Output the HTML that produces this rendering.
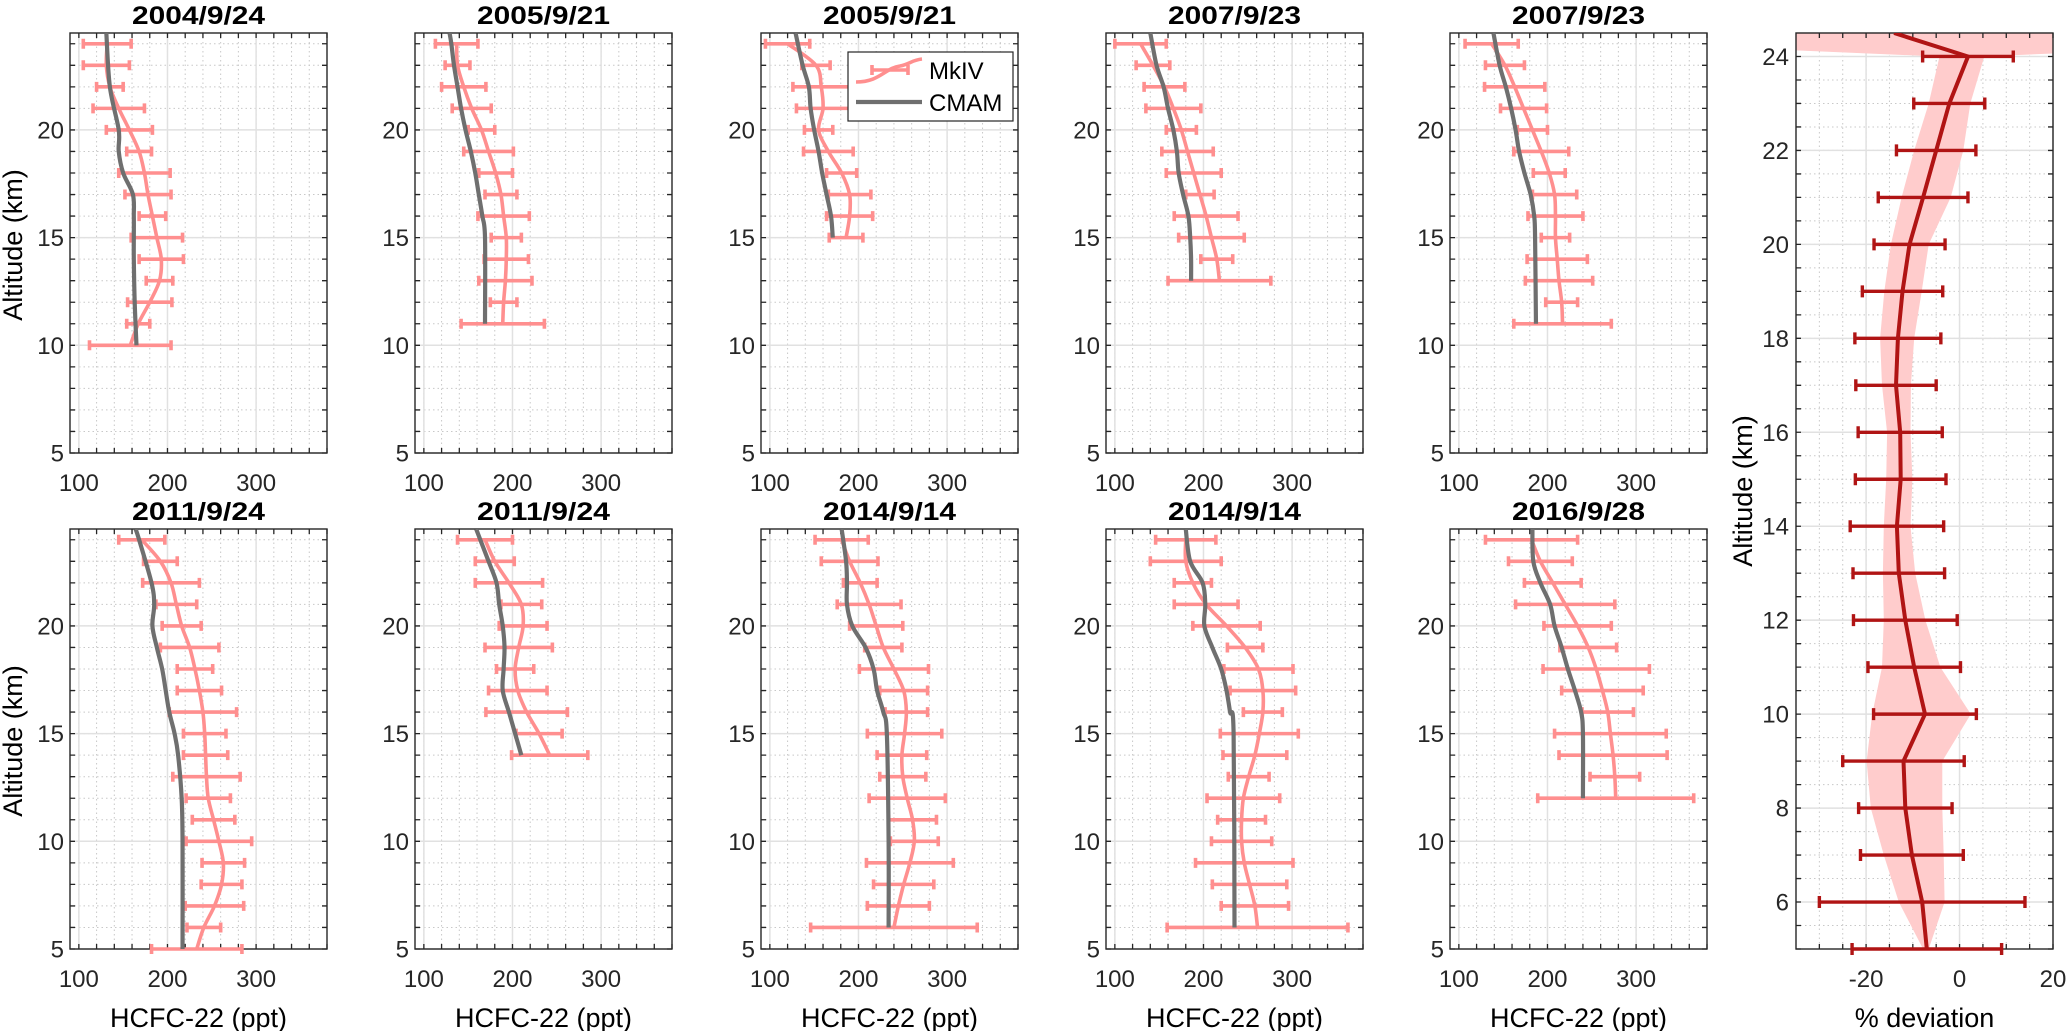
<!DOCTYPE html>
<html><head><meta charset="utf-8"><title>HCFC-22 profiles</title>
<style>
html,body{margin:0;padding:0;background:#fff;}
svg{display:block;font-family:"Liberation Sans",Arial,sans-serif;}
</style></head>
<body>
<svg id="chart" width="2067" height="1031" viewBox="0 0 2067 1031" xmlns="http://www.w3.org/2000/svg"></svg>
<script>
// ---------- data ----------
const titles = ["2004/9/24","2005/9/21","2005/9/21","2007/9/23","2007/9/23","2011/9/24","2011/9/24","2014/9/14","2014/9/14","2016/9/28"];
const xTicks = [100,200,300];
const yTicks = [5,10,15,20];
const devXTicks = [-20,0,20];
const devYTicks = [6,8,10,12,14,16,18,20,22,24];

const mk1Alt = [24,23,22,21,20,19,18,17,16,15,14,13,12,11,10];
const mk1Val = [132,131,135,145,157,168,174,178,183,188,193,191,180,167,158];
const mk1Err = [27,26,15,29,26,14,29,26,15,29,25,15,25,13,46];
const cm1Alt = [24.5,22,20,19,18,17,16,15,14,12,10];
const cm1Val = [131,135,145,145,150,161,162,162,162,163,165];

const mk2Alt = [24,23,22,21,20,19,18,17,16,15,14,13,12,11];
const mk2Val = [137,138,145,154,165,173,181,187,190,193,193,192,190,189];
const mk2Err = [24,14,25,22,15,28,19,18,29,17,25,30,15,47];
const cm2Alt = [24.5,24,23,22,21,20,19,18,17,16,15,11];
const cm2Val = [129,131,134,138,142,147,153,158,162,166,169,169];

const mk3Alt = [24,23,22,21,20,19,18,17,16,15];
const mk3Val = [120,152,158,160,155,166,181,190,190,186];
const mk3Err = [25,16,32,30,16,28,17,24,26,19];
const cm3Alt = [24.5,23,22,21,20,19,18,17,16,15];
const cm3Val = [129,137,144,146,150,155,159,164,169,171];

const mk4Alt = [24,23,22,21,20,19,18,17,16,15,14,13];
const mk4Val = [129,143,156,166,175,182,189,196,203,209,215,218];
const mk4Err = [29,19,23,31,17,29,31,16,36,37,18,58];
const cm4Alt = [24.5,23,22,21,20,19,18,17,16,15,14,13];
const cm4Val = [140,147,155,160,166,170,172,177,183,185,186,186];

const mk5Alt = [24,23,22,21,20,19,18,17,16,15,14,13,12,11];
const mk5Val = [137,152,163,173,183,193,202,208,209,209,211,213,216,217];
const mk5Err = [30,22,34,26,17,31,18,25,31,16,34,38,18,55];
const cm5Alt = [24.5,23,22,21,20,19,18,17,16,15,11];
const cm5Val = [139,146,153,159,164,168,174,181,185,186,187];

const mk6Alt = [24,23,22,21,20,19,18,17,16,15,14,13,12,11,10,9,8,7,6,5];
const mk6Val = [171,192,204,210,216,225,231,236,240,242,243,244,246,252,258,263,261,253,241,233];
const mk6Err = [26,19,32,23,22,33,20,25,38,24,25,38,25,24,37,24,23,33,19,51];
const cm6Alt = [24.5,24,22,21,20,19,18,17,16,15,14,12,10,5];
const cm6Val = [164,168,182,185,183,188,194,198,202,208,212,216,217,217];

const mk7Alt = [24,23,22,21,20,19,18,17,16,15,14];
const mk7Val = [169,180,196,210,212,207,203,206,216,230,242];
const mk7Err = [31,22,38,23,27,38,21,33,46,26,43];
const cm7Alt = [24.5,23,22,21,20,19,18,17,16,15,14];
const cm7Val = [159,173,182,185,189,191,190,189,196,203,210];

const mk8Alt = [24,23,22,21,20,19,18,17,16,15,14,13,12,11,10,9,8,7,6];
const mk8Val = [181,190,202,212,220,228,240,251,254,252,249,250,255,261,263,258,251,245,240];
const mk8Err = [30,32,19,36,30,21,39,27,24,42,28,26,43,27,27,49,34,35,94];
const cm8Alt = [24.5,23,22,21,20,19,18,17,16,15,10,6];
const cm8Val = [181,186,187,187,193,208,217,221,228,232,234,234];

const mk9Alt = [24,23,22,21,20,19,18,17,16,15,14,13,12,11,10,9,8,7,6];
const mk9Val = [180,180,188,203,226,247,262,267,267,263,258,251,245,243,243,246,252,258,261];
const mk9Err = [34,40,21,36,38,20,39,37,22,44,36,23,41,27,34,55,42,38,102];
const cm9Alt = [24.5,23,22,21,20,19,18,17,16,15,6];
const cm9Val = [180,185,199,202,201,210,220,226,230,234,235];

const mk10Alt = [24,23,22,21,20,19,18,17,16,15,14,13,12];
const mk10Val = [182,192,206,220,234,246,255,262,268,271,274,276,277];
const mk10Err = [52,36,32,56,38,32,60,46,29,63,61,28,88];
const cm10Alt = [24.5,23,22,21,20,19,18,17,16,15,12];
const cm10Val = [183,184,192,203,208,216,223,231,238,240,240];

const devAlt = [24.5,24,23,22,21,20,19,18,17,16,15,14,13,12,11,10,9,8,7,6,5];
const devVal = [-14,1.8,-2.2,-5,-7.8,-10.7,-12.2,-13.2,-13.6,-12.7,-12.6,-13.4,-13,-11.6,-9.7,-7.4,-12,-11.6,-10.2,-8,-7];
const devErrAlt = [24,23,22,21,20,19,18,17,16,15,14,13,12,11,10,9,8,7,6,5];
const devErrVal = [1.8,-2.2,-5,-7.8,-10.7,-12.2,-13.2,-13.6,-12.7,-12.6,-13.4,-13,-11.6,-9.7,-7.4,-12,-11.6,-10.2,-8,-7];
const devErr = [9.7,7.6,8.5,9.6,7.6,8.6,9.2,8.6,9,9.7,10,9.8,11.1,9.9,11,13,10,11,22,16];
const bandAlt = [24.5,24.15,24,23,22,21,20,19,18,17,16,15,14,13,12,11,10,9,8,7,6,5];
const bandLow = [-100,-40,-4.3,-6.6,-9.7,-12.4,-14.7,-16.1,-17,-16.6,-15.5,-15.7,-16.2,-16.4,-16.2,-16.6,-18.7,-19.9,-19,-16.2,-13,-7.8];
const bandHigh = [100,40,5.3,2.3,0.8,-1.9,-6.6,-8.1,-9.7,-10.4,-10.5,-10.1,-10.5,-9.5,-7.3,-4.1,2.4,-3.7,-3.7,-3.4,-3.2,-6.6];

const panels = [
  {mkAlt:mk1Alt,mkVal:mk1Val,mkErr:mk1Err,cmAlt:cm1Alt,cmVal:cm1Val},
  {mkAlt:mk2Alt,mkVal:mk2Val,mkErr:mk2Err,cmAlt:cm2Alt,cmVal:cm2Val},
  {mkAlt:mk3Alt,mkVal:mk3Val,mkErr:mk3Err,cmAlt:cm3Alt,cmVal:cm3Val},
  {mkAlt:mk4Alt,mkVal:mk4Val,mkErr:mk4Err,cmAlt:cm4Alt,cmVal:cm4Val},
  {mkAlt:mk5Alt,mkVal:mk5Val,mkErr:mk5Err,cmAlt:cm5Alt,cmVal:cm5Val},
  {mkAlt:mk6Alt,mkVal:mk6Val,mkErr:mk6Err,cmAlt:cm6Alt,cmVal:cm6Val},
  {mkAlt:mk7Alt,mkVal:mk7Val,mkErr:mk7Err,cmAlt:cm7Alt,cmVal:cm7Val},
  {mkAlt:mk8Alt,mkVal:mk8Val,mkErr:mk8Err,cmAlt:cm8Alt,cmVal:cm8Val},
  {mkAlt:mk9Alt,mkVal:mk9Val,mkErr:mk9Err,cmAlt:cm9Alt,cmVal:cm9Val},
  {mkAlt:mk10Alt,mkVal:mk10Val,mkErr:mk10Err,cmAlt:cm10Alt,cmVal:cm10Val}
];

// ---------- layout ----------
const NS = "http://www.w3.org/2000/svg";
const svg = document.getElementById("chart");
const LEFTS = [70,415,761,1106,1450];
const TOPS = [33,529];
const PW = 257, PH = 420;
const XMIN = 90, XMAX = 380, YMIN = 5, YMAX = 24.5;
const PINK = "#ff8f8f", GRAY = "#6f6f6f", DARK = "#262626", RED = "#b01414";
const TICKFS = 24, TITLEFS = 25, LABELFS = 27;

function el(tag, attrs, parent){
  const e = document.createElementNS(NS, tag);
  for (const k in attrs) e.setAttribute(k, attrs[k]);
  (parent || svg).appendChild(e);
  return e;
}
function smoothPath(pts){
  if (pts.length < 2) return "";
  let d = "M" + pts[0][0].toFixed(2) + "," + pts[0][1].toFixed(2);
  for (let i = 0; i < pts.length - 1; i++){
    const p0 = pts[Math.max(0,i-1)], p1 = pts[i], p2 = pts[i+1], p3 = pts[Math.min(pts.length-1,i+2)];
    const c1x = p1[0] + (p2[0]-p0[0])/6, c1y = p1[1] + (p2[1]-p0[1])/6;
    const c2x = p2[0] - (p3[0]-p1[0])/6, c2y = p2[1] - (p3[1]-p1[1])/6;
    d += " C" + c1x.toFixed(2)+","+c1y.toFixed(2)+" "+c2x.toFixed(2)+","+c2y.toFixed(2)+" "+p2[0].toFixed(2)+","+p2[1].toFixed(2);
  }
  return d;
}

function drawFrame(g, L, T, W, H, xs, ys, xMinorVals, yMinorVals, xMajorVals, yMajorVals){
  el("rect",{x:L,y:T,width:W,height:H,fill:"#fff"},g);
  xMinorVals.forEach(v=>{
    const l = el("line",{x1:xs(v),x2:xs(v),y1:T,y2:T+H,stroke:"#c8c8c8","stroke-width":1,"stroke-dasharray":"1.5,3"},g);
    
    
  });
  yMinorVals.forEach(v=>{
    const l = el("line",{x1:L,x2:L+W,y1:ys(v),y2:ys(v),stroke:"#c8c8c8","stroke-width":1,"stroke-dasharray":"1.5,3"},g);
    
    
  });
  xMajorVals.forEach(v=>{
    const l = el("line",{x1:xs(v),x2:xs(v),y1:T,y2:T+H,stroke:"#e1e1e1","stroke-width":1.5},g);
    
    
  });
  yMajorVals.forEach(v=>{
    const l = el("line",{x1:L,x2:L+W,y1:ys(v),y2:ys(v),stroke:"#e1e1e1","stroke-width":1.5},g);
    
    
  });
}
function drawBoxTicks(g, L, T, W, H, xs, ys, xVals, yVals){
  let d = "";
  xVals.forEach(v=>{ const x = xs(v); d += "M"+x+","+(T+H)+"v-5M"+x+","+T+"v5"; });
  yVals.forEach(v=>{ const y = ys(v); d += "M"+L+","+y+"h5M"+(L+W)+","+y+"h-5"; });
  const t = el("path",{d:d,stroke:DARK,"stroke-width":1.3,fill:"none"},g);
  
  
  const b = el("rect",{x:L,y:T,width:W,height:H,fill:"none",stroke:DARK,"stroke-width":1.4},g);
  
  
}

function range(a,b,s){ const r=[]; for(let v=a; v<=b+1e-9; v+=s) r.push(+v.toFixed(6)); return r; }

panels.forEach((p, i)=>{
  const row = Math.floor(i/5), col = i%5;
  const L = LEFTS[col], T = TOPS[row];
  const xs = v => L + (v - XMIN)/(XMAX - XMIN)*PW;
  const ys = a => T + (YMAX - a)/(YMAX - YMIN)*PH;
  const g = el("g",{});
  
  
  const clipId = "clip"+i;
  const cp = el("clipPath",{id:clipId},g);
  el("rect",{x:L,y:T,width:PW,height:PH},cp);

  const xMinor = range(100,380,20), yMinor = range(5,24,1);
  drawFrame(g, L, T, PW, PH, xs, ys, xMinor, yMinor, xTicks, yTicks);

  const plot = el("g",{"clip-path":"url(#"+clipId+")"},g);
  const bars = el("g",{},g);
  p.mkAlt.forEach((a,k)=>{
    const y = ys(a), x1 = xs(p.mkVal[k]-p.mkErr[k]), x2 = xs(p.mkVal[k]+p.mkErr[k]);
    const eb = el("path",{d:"M"+x1+","+y+"H"+x2+"M"+x1+","+(y-5)+"V"+(y+5)+"M"+x2+","+(y-5)+"V"+(y+5),stroke:PINK,"stroke-width":3.6,fill:"none"},bars);
    
    
  });
  const mkPts = p.mkAlt.map((a,k)=>[xs(p.mkVal[k]), ys(a)]);
  const ml = el("path",{d:smoothPath(mkPts),stroke:PINK,"stroke-width":3.6,fill:"none","stroke-linejoin":"round"},plot);
  
  
  const cmPts = p.cmAlt.map((a,k)=>[xs(p.cmVal[k]), ys(a)]);
  const cl = el("path",{d:smoothPath(cmPts),stroke:GRAY,"stroke-width":4.2,fill:"none","stroke-linejoin":"round"},plot);
  
  

  drawBoxTicks(g, L, T, PW, PH, xs, ys, xMinor, yMinor);
  g.appendChild(bars);
  g.appendChild(plot);

  const tt = el("text",{x:L+PW/2,y:T-9,"text-anchor":"middle","font-size":TITLEFS,"font-weight":"bold",fill:"#000",textLength:133,lengthAdjust:"spacingAndGlyphs"},g);
  tt.textContent = titles[i];
  
  
  xTicks.forEach(v=>{
    const t = el("text",{x:xs(v),y:T+PH+38,"text-anchor":"middle","font-size":TICKFS,fill:DARK},g);
    t.textContent = v;
    
    
  });
  yTicks.forEach(v=>{
    const t = el("text",{x:L-6,y:ys(v)+8.5,"text-anchor":"end","font-size":TICKFS,fill:DARK},g);
    t.textContent = v;
    
    
  });
  if (col === 0){
    const yl = el("text",{x:0,y:0,"text-anchor":"middle","font-size":LABELFS,fill:"#000",transform:"translate(22,"+(T+PH/2+2)+") rotate(-90)"},g);
    yl.textContent = "Altitude (km)";
    
    
  }
  if (row === 1){
    const xl = el("text",{x:L+PW/2,y:1027,"text-anchor":"middle","font-size":LABELFS,fill:"#000"},g);
    xl.textContent = "HCFC-22 (ppt)";
    
    
  }
  if (i === 2){
    const lg = el("g",{});
    
    
    el("rect",{x:848,y:52,width:165,height:69,fill:"#fff",stroke:DARK,"stroke-width":1.2},lg);
    const li = el("path",{d:"M856,82 C880,82 885,68 900,66 C910,64 912,60 922,59",stroke:PINK,"stroke-width":3.6,fill:"none"},lg);
    
    
    el("path",{d:"M872,70H908M872,65V75M908,65V75",stroke:PINK,"stroke-width":3.6,fill:"none"},lg);
    const lt1 = el("text",{x:929,y:79,"font-size":24,fill:"#000"},lg);
    lt1.textContent = "MkIV";
    
    
    const lc = el("line",{x1:856,x2:922,y1:102,y2:102,stroke:GRAY,"stroke-width":4.2},lg);
    
    
    const lt2 = el("text",{x:929,y:111,"font-size":24,fill:"#000"},lg);
    lt2.textContent = "CMAM";
    
    
  }
});

// ---------- deviation panel ----------
(function(){
  const L = 1796, T = 33, W = 257, H = 916;
  const DXMIN = -35, DXMAX = 20;
  const xs = v => L + (v - DXMIN)/(DXMAX - DXMIN)*W;
  const ys = a => T + (YMAX - a)/(YMAX - YMIN)*H;
  const g = el("g",{});
  
  
  const cp = el("clipPath",{id:"clipdev"},g);
  el("rect",{x:L,y:T,width:W,height:H},cp);
  const xMinor = range(-30,20,5), yMinor = range(5,24,0.5);
  drawFrame(g, L, T, W, H, xs, ys, xMinor, yMinor, devXTicks, devYTicks);
  const plot = el("g",{"clip-path":"url(#clipdev)"},g);
  const up = bandAlt.map((a,k)=>[xs(bandHigh[k]), ys(a)]);
  const lo = bandAlt.map((a,k)=>[xs(bandLow[k]), ys(a)]).reverse();
  const poly = up.concat(lo).map(p=>p[0].toFixed(1)+","+p[1].toFixed(1)).join(" ");
  const band = el("polygon",{points:poly,fill:"#ffcccc",stroke:"none"},plot);
  
  
  drawBoxTicks(g, L, T, W, H, xs, ys, range(-30,20,5), range(5,24,0.5));
  const bars = el("g",{},g);
  devErrAlt.forEach((a,k)=>{
    const y = ys(a), x1 = xs(devErrVal[k]-devErr[k]), x2 = xs(devErrVal[k]+devErr[k]);
    const eb = el("path",{d:"M"+x1+","+y+"H"+x2+"M"+x1+","+(y-6)+"V"+(y+6)+"M"+x2+","+(y-6)+"V"+(y+6),stroke:RED,"stroke-width":3.4,fill:"none"},bars);
    
    
  });
  const lineG = el("g",{"clip-path":"url(#clipdev)"},g);
  const pts = devAlt.map((a,k)=>xs(devVal[k]).toFixed(1)+","+ys(a).toFixed(1)).join(" ");
  const ln = el("polyline",{points:pts,stroke:RED,"stroke-width":4,fill:"none","stroke-linejoin":"round"},lineG);
  
  
  devXTicks.forEach(v=>{
    const t = el("text",{x:xs(v),y:T+H+38,"text-anchor":"middle","font-size":TICKFS,fill:DARK},g);
    t.textContent = v;
    
    
  });
  devYTicks.forEach(v=>{
    const t = el("text",{x:L-7,y:ys(v)+8.5,"text-anchor":"end","font-size":TICKFS,fill:DARK},g);
    t.textContent = v;
    
    
  });
  const yl = el("text",{x:0,y:0,"text-anchor":"middle","font-size":LABELFS,fill:"#000",transform:"translate(1752,"+(T+H/2)+") rotate(-90)"},g);
  yl.textContent = "Altitude (km)";
  
  
  const xl = el("text",{x:xs(-7.5),y:1027,"text-anchor":"middle","font-size":LABELFS,fill:"#000"},g);
  xl.textContent = "% deviation";
  
  
})();
</script>
</body></html>
